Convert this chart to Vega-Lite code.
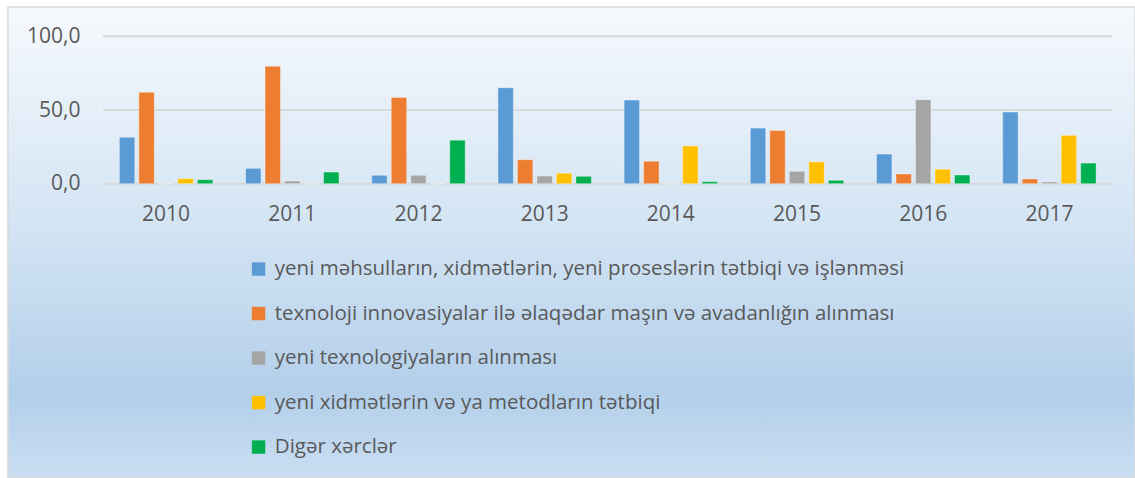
{
  "$schema": "https://vega.github.io/schema/vega-lite/v6.json",
  "width": 1127,
  "height": 471,
  "autosize": {"type": "none"},
  "padding": {"left": 8, "top": 7, "right": 0, "bottom": 0},
  "background": "white",
  "config": {
    "font": "Open Sans",
    "view": {
      "stroke": "#d9d9d9",
      "strokeWidth": 1.5,
      "fill": {
        "gradient": "linear",
        "x1": 0, "y1": 0, "x2": 0, "y2": 1,
        "stops": [
          {"offset": 0, "color": "#f6f9fd"},
          {"offset": 0.45, "color": "#d4e5f4"},
          {"offset": 0.82, "color": "#b3cfea"},
          {"offset": 1, "color": "#c9def2"}
        ]
      }
    }
  },
  "layer": [
    {
      "data": {"values": [{"v": 0}, {"v": 50}, {"v": 100}]},
      "mark": {"type": "rule", "color": "#d9d9d9", "strokeWidth": 2},
      "encoding": {
        "x": {"datum": 0, "type": "quantitative", "scale": {"domain": [0, 1], "range": [95, 1104.5]}, "axis": null},
        "x2": {"datum": 1},
        "y": {
          "field": "v", "type": "quantitative",
          "scale": {"domain": [0, 100], "range": [176.7, 29.3], "nice": false, "zero": true},
          "axis": {"orient": "left", "offset": -80, "labelPadding": 8, "grid": false, "domain": false, "ticks": false, "values": [0, 50, 100], "labelExpr": "replace(format(datum.value,'.1f'),'.',',')", "labelFontSize": 21, "labelColor": "#595959", "labelFont": "Open Sans", "title": null, "labelBaseline": "middle"}
        }
      }
    },
    {
      "data": {
        "values": [
          {"year": "2010", "series": "s1", "value": 31.5},
          {"year": "2010", "series": "s2", "value": 62.0},
          {"year": "2010", "series": "s3", "value": 0},
          {"year": "2010", "series": "s4", "value": 3.4},
          {"year": "2010", "series": "s5", "value": 2.7},
          {"year": "2011", "series": "s1", "value": 10.4},
          {"year": "2011", "series": "s2", "value": 79.6},
          {"year": "2011", "series": "s3", "value": 1.8},
          {"year": "2011", "series": "s4", "value": 0},
          {"year": "2011", "series": "s5", "value": 7.9},
          {"year": "2012", "series": "s1", "value": 5.7},
          {"year": "2012", "series": "s2", "value": 58.5},
          {"year": "2012", "series": "s3", "value": 5.7},
          {"year": "2012", "series": "s4", "value": 0},
          {"year": "2012", "series": "s5", "value": 29.5},
          {"year": "2013", "series": "s1", "value": 65.1},
          {"year": "2013", "series": "s2", "value": 16.3},
          {"year": "2013", "series": "s3", "value": 5.2},
          {"year": "2013", "series": "s4", "value": 7.1},
          {"year": "2013", "series": "s5", "value": 5.0},
          {"year": "2014", "series": "s1", "value": 56.7},
          {"year": "2014", "series": "s2", "value": 15.2},
          {"year": "2014", "series": "s3", "value": 0},
          {"year": "2014", "series": "s4", "value": 25.6},
          {"year": "2014", "series": "s5", "value": 1.4},
          {"year": "2015", "series": "s1", "value": 37.7},
          {"year": "2015", "series": "s2", "value": 36.1},
          {"year": "2015", "series": "s3", "value": 8.4},
          {"year": "2015", "series": "s4", "value": 14.8},
          {"year": "2015", "series": "s5", "value": 2.3},
          {"year": "2016", "series": "s1", "value": 20.1},
          {"year": "2016", "series": "s2", "value": 6.6},
          {"year": "2016", "series": "s3", "value": 57.0},
          {"year": "2016", "series": "s4", "value": 9.8},
          {"year": "2016", "series": "s5", "value": 5.9},
          {"year": "2017", "series": "s1", "value": 48.6},
          {"year": "2017", "series": "s2", "value": 3.2},
          {"year": "2017", "series": "s3", "value": 1.2},
          {"year": "2017", "series": "s4", "value": 32.8},
          {"year": "2017", "series": "s5", "value": 14.0}
        ]
      },
      "transform": [
        {"lookup": "series", "from": {"data": {"values": [
          {"series": "s1", "name": "yeni məhsulların, xidmətlərin, yeni proseslərin tətbiqi və işlənməsi"},
          {"series": "s2", "name": "texnoloji innovasiyalar ilə əlaqədar maşın və avadanlığın alınması"},
          {"series": "s3", "name": "yeni texnologiyaların alınması"},
          {"series": "s4", "name": "\u00a0yeni xidmətlərin və ya metodların tətbiqi"},
          {"series": "s5", "name": "Digər xərclər"}
        ]}, "key": "series", "fields": ["name"]}}
      ],
      "mark": {"type": "bar", "stroke": "#ffffff", "strokeOpacity": 0.35, "strokeWidth": 1},
      "encoding": {
        "x": {
          "field": "year", "type": "nominal",
          "scale": {"range": [95, 1104.5], "paddingInner": 0, "paddingOuter": 0},
          "axis": {"orient": "bottom", "offset": -294.3, "labelPadding": 31, "labelFontSize": 21, "labelColor": "#595959", "labelFont": "Open Sans", "labelAngle": 0, "domain": false, "ticks": false, "grid": false, "title": null, "labelBaseline": "middle"}
        },
        "xOffset": {"field": "series", "type": "nominal", "sort": ["s1", "s2", "s3", "s4", "s5"], "scale": {"paddingInner": 0.21, "paddingOuter": 0.84}},
        "y": {
          "field": "value", "type": "quantitative",
          "scale": {"domain": [0, 100], "range": [176.7, 29.3], "nice": false, "zero": true},
          "axis": {"orient": "left", "offset": -80, "labelPadding": 8, "grid": false, "domain": false, "ticks": false, "values": [0, 50, 100], "labelExpr": "replace(format(datum.value,'.1f'),'.',',')", "labelFontSize": 21, "labelColor": "#595959", "labelFont": "Open Sans", "title": null, "labelBaseline": "middle"}
        },
        "color": {
          "field": "name", "type": "nominal",
          "scale": {
            "domain": ["yeni məhsulların, xidmətlərin, yeni proseslərin tətbiqi və işlənməsi", "texnoloji innovasiyalar ilə əlaqədar maşın və avadanlığın alınması", "yeni texnologiyaların alınması", "\u00a0yeni xidmətlərin və ya metodların tətbiqi", "Digər xərclər"],
            "range": ["#5b9bd5", "#ed7d31", "#a5a5a5", "#ffc000", "#00b050"]
          },
          "legend": {"orient": "none", "legendX": 240.3, "legendY": 251.8, "direction": "vertical", "title": null, "symbolType": "square", "symbolSize": 180, "symbolStrokeWidth": 0, "symbolOpacity": 1, "labelFontSize": 20.5, "labelColor": "#595959", "labelFont": "Open Sans", "labelLimit": 1000, "labelOffset": 6, "rowPadding": 23.5, "padding": 0}
        }
      }
    }
  ],
  "resolve": {"scale": {"x": "independent"}, "axis": {"x": "independent"}}
}
